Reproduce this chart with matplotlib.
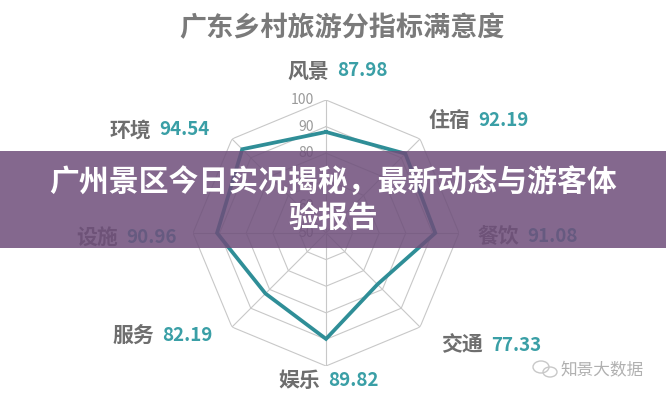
import numpy as np
import matplotlib
matplotlib.use("Agg")
import matplotlib.pyplot as plt
from matplotlib.patches import Rectangle, Ellipse

plt.rcParams['font.family'] = ['Noto Sans CJK SC', 'DejaVu Sans']

# data, clockwise from the top
categories = ['风景', '住宿', '餐饮', '交通', '娱乐', '服务', '设施', '环境']
scores = [87.98, 92.19, 91.08, 77.33, 89.82, 82.19, 90.96, 94.54]
rings = [50, 60, 70, 80, 90, 100]

title = '广东乡村旅游分指标满意度'
banner = '广州景区今日实况揭秘，最新动态与游客体\n验报告'
watermark = '知景大数据'

# label offsets (pixels) from the end of each spoke: split point between name and value
label_offsets = [(7, 29), (54, 18), (64, -4), (67, -18), (-2, -14), (-74, -8), (-71, -4), (-77, 9)]

teal = '#2f8e97'
value_col = '#3a9fa6'
name_col = '#6e6e6e'
grid_col = '#c8c8c8'

fig = plt.figure(figsize=(6.66, 4.0), dpi=100)
ax = fig.add_axes([0.2898, 0.085, 0.3994, 0.665], projection='polar')
ax.set_theta_zero_location('N')
ax.set_theta_direction(-1)
ax.set_ylim(50, 100)
ax.grid(False)
ax.spines['polar'].set_visible(False)
ax.set_xticks([])
ax.set_yticks([])
ax.patch.set_alpha(0)

n = len(categories)
angles = np.linspace(0, 2 * np.pi, n, endpoint=False)
closed = np.append(angles, angles[0])

# octagon grid
for r in rings[1:]:
    ax.plot(closed, [r] * (n + 1), color=grid_col, lw=0.8, zorder=1)
for a in angles:
    ax.plot([a, a], [50, 100], color=grid_col, lw=0.8, zorder=1)

# ring labels on the top spoke
for r in rings:
    ax.annotate(str(r), xy=(0, r), xytext=(-12, 0), textcoords='offset pixels',
                ha='right', va='center', fontsize=10, color='#9a9a9a',
                annotation_clip=False)

# the series
ax.plot(closed, np.append(scores, scores[0]), color=teal, lw=2.7, zorder=3,
        solid_joinstyle='miter')

# category names and values
for a, name, v, (dx, dy) in zip(angles, categories, scores, label_offsets):
    ax.annotate(name, xy=(a, 100), xytext=(dx - 4, dy), textcoords='offset pixels',
                ha='right', va='center', fontsize=15, fontweight='bold',
                color=name_col, annotation_clip=False)
    ax.annotate(f'{v:.2f}', xy=(a, 100), xytext=(dx + 4, dy), textcoords='offset pixels',
                ha='left', va='center', fontsize=13.5, fontweight='bold',
                color=value_col, annotation_clip=False)

fig.text(342 / 666, 1 - 28 / 400, title, ha='center', va='center',
         fontsize=19.5, fontweight='bold', color='#7a7a7a')

# purple banner over the chart
fig.patches.append(Rectangle((0, 1 - 248 / 400), 1, 97 / 400, transform=fig.transFigure,
                             facecolor='#6e4e7a', alpha=0.85, edgecolor='none', zorder=10))
fig.text(0.5, 1 - 200 / 400, banner, ha='center', va='center', fontsize=21.5,
         fontweight='heavy', color='white', linespacing=1.25, zorder=11)

# watermark
fig.patches.append(Ellipse((541 / 666, 1 - 367 / 400), 16 / 666, 12 / 400,
                           transform=fig.transFigure, fill=False, ec='#c8c8c8', lw=1))
fig.patches.append(Ellipse((550 / 666, 1 - 372 / 400), 14 / 666, 10 / 400,
                           transform=fig.transFigure, fill=False, ec='#c8c8c8', lw=1))
fig.text(560 / 666, 1 - 370 / 400, watermark, ha='left', va='center',
         fontsize=12, color='#b0b0b0')

fig.savefig('out.png', dpi=100)
